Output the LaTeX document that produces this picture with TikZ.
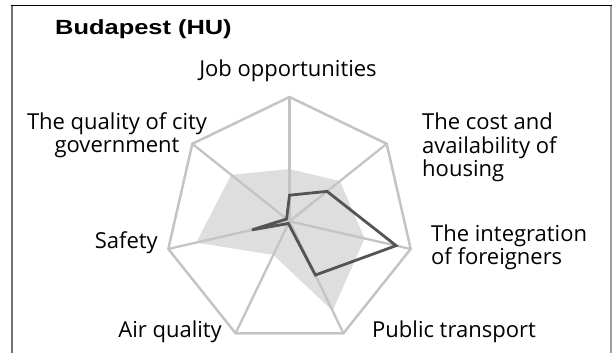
\documentclass[tikz,border=0pt]{standalone}
\usepackage{graphicx}
\usepackage{fontspec}
\setmainfont{Open Sans}
\newfontfamily\titlefont{Liberation Sans}
\usetikzlibrary{positioning}
\definecolor{gridgray}{gray}{0.77}
\definecolor{areagray}{gray}{0.87}
\definecolor{citygray}{gray}{0.33}
\definecolor{framegray}{gray}{0.45}
\def\rad{124.3}

\begin{document}
\begin{tikzpicture}[x=1pt,y=1pt,
    spoke/.style={draw=gridgray, line width=2.3pt},
    rim/.style={draw=gridgray, line width=2.5pt, line join=miter},
    area/.style={fill=areagray},
    city/.style={draw=citygray, line width=2.8pt, line join=miter},
    lbl/.style={inner sep=0pt, font=\fontsize{22}{23.5}\selectfont}]
  \useasboundingbox (0,0) rectangle (615,353);
  \draw[framegray, line width=1.6pt] (12,0) -- (12,347);
  \draw[framegray!70, line width=1.6pt] (611,0) -- (611,347);
  \draw[black, line width=1pt] (11.2,347) -- (611.8,347);

  \node[inner sep=0pt, anchor=base west] (title) at (55,318)
    {\titlefont\bfseries\fontsize{20.5}{24}\selectfont\scalebox{1.24}[1]{Budapest (HU)}};

  \coordinate (c) at (289.5,131.7);
  \foreach \i in {0,...,6}
    \path (c) ++({90-\i*360/7}:\rad) coordinate (v\i);
  \foreach \r [count=\i from 0] in {0.42,0.52,0.62,0.8,0.3,0.77,0.6}
    \path (c) ++({90-\i*360/7}:\r*\rad) coordinate (f\i);
  \foreach \r [count=\i from 0] in {0.21,0.386,0.88,0.48,0.02,0.31,0.03}
    \path (c) ++({90-\i*360/7}:\r*\rad) coordinate (d\i);

  \fill[area] (f0) -- (f1) -- (f2) -- (f3) -- (f4) -- (f5) -- (f6) -- cycle;
  \foreach \i in {0,...,6}
    \draw[spoke] (c) -- (v\i);
  \draw[rim] (v0) -- (v1) -- (v2) -- (v3) -- (v4) -- (v5) -- (v6) -- cycle;
  \draw[city] (d0) -- (d1) -- (d2) -- (d3) -- (d4) -- (d5) -- (d6) -- cycle;

  \node[lbl, anchor=base] (jobs) at (288,276) {Job opportunities};
  \node[lbl, anchor=base, align=center] (gov) at (117,200)
    {The quality of city\\government};
  \node[lbl, anchor=base west, align=left] (housing) at (422,176)
    {The cost and\\availability of\\housing};
  \node[lbl, anchor=base west, align=left] (foreign) at (431,88)
    {The integration\\of foreigners};
  \node[lbl, anchor=base east] (safety) at (158,104) {Safety};
  \node[lbl, anchor=base east] (air) at (222,16) {Air quality};
  \node[lbl, anchor=base west] (transport) at (372,16) {Public transport};
\end{tikzpicture}
\end{document}
